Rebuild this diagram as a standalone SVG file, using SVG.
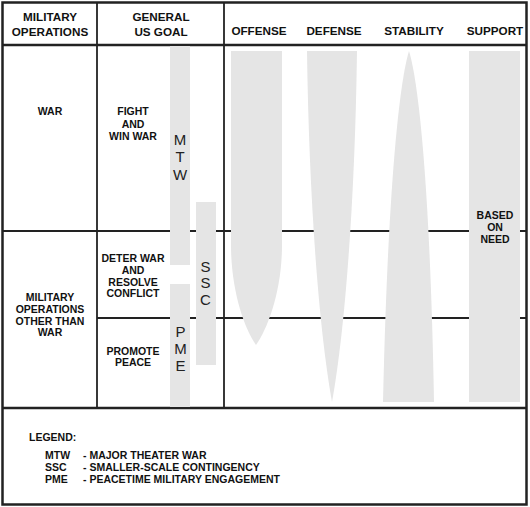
<svg xmlns="http://www.w3.org/2000/svg" width="530" height="507" viewBox="0 0 530 507">
<style>
.hd{font-family:"Liberation Sans",Arial,sans-serif;font-weight:bold;font-size:11.7px;fill:#111;text-anchor:middle}
.tx{font-family:"Liberation Sans",Arial,sans-serif;font-weight:bold;font-size:10.5px;fill:#111;text-anchor:middle}
.lg{font-family:"Liberation Sans",Arial,sans-serif;font-weight:bold;font-size:10.5px;fill:#111}
.big{font-family:"Liberation Sans",Arial,sans-serif;font-size:15px;fill:#222;text-anchor:middle}
.sh{fill:#e5e5e5}
.ln{stroke:#222;fill:none}
</style>
<rect width="530" height="507" fill="#fff"/>
<g id="grid">
<line class="ln" x1="2" y1="231" x2="527" y2="231" stroke-width="2" stroke="#3a3a3a"/>
<line class="ln" x1="97" y1="318" x2="527" y2="318" stroke-width="1.8"/>
<line class="ln" x1="97" y1="2" x2="97" y2="408" stroke-width="1.8"/>
<line class="ln" x1="224" y1="2" x2="224" y2="408" stroke-width="1.8"/>
<line class="ln" x1="2" y1="45" x2="527" y2="45" stroke-width="2.5"/>
<line class="ln" x1="2" y1="408" x2="527" y2="408" stroke-width="2.5"/>
<rect class="ln" x="2.5" y="2.5" width="524" height="502" stroke-width="2.5"/>
</g>
<g id="headers">
<text class="hd" x="50" y="21">MILITARY</text>
<text class="hd" x="50" y="36">OPERATIONS</text>
<text class="hd" x="161" y="21">GENERAL</text>
<text class="hd" x="161" y="36">US GOAL</text>
<text class="hd" x="259" y="35">OFFENSE</text>
<text class="hd" x="334" y="35">DEFENSE</text>
<text class="hd" x="414" y="35">STABILITY</text>
<text class="hd" x="495" y="35">SUPPORT</text>
</g>
<g id="row-war">
<text class="tx" x="50" y="115">WAR</text>
</g>
<g id="row-mootw">
<text class="tx" x="50" y="301">MILITARY</text>
<text class="tx" x="50" y="313">OPERATIONS</text>
<text class="tx" x="50" y="325">OTHER THAN</text>
<text class="tx" x="50" y="336">WAR</text>
</g>
<g id="goal-fight">
<text class="tx" x="133" y="115">FIGHT</text>
<text class="tx" x="133" y="128">AND</text>
<text class="tx" x="133" y="140">WIN WAR</text>
</g>
<g id="goal-deter">
<text class="tx" x="133" y="262">DETER WAR</text>
<text class="tx" x="133" y="274">AND</text>
<text class="tx" x="133" y="286">RESOLVE</text>
<text class="tx" x="133" y="297">CONFLICT</text>
</g>
<g id="goal-promote">
<text class="tx" x="133" y="355">PROMOTE</text>
<text class="tx" x="133" y="366">PEACE</text>
</g>
<g id="bar-mtw">
<rect class="sh" x="170" y="46" width="20" height="219"/>
<text class="big" x="180" y="145">M</text>
<text class="big" x="180" y="162">T</text>
<text class="big" x="180" y="180">W</text>
</g>
<g id="bar-ssc">
<rect class="sh" x="196" y="202" width="20" height="163"/>
<text class="big" x="205.5" y="272">S</text>
<text class="big" x="205.5" y="288">S</text>
<text class="big" x="205.5" y="305">C</text>
</g>
<g id="bar-pme">
<rect class="sh" x="170" y="284" width="20" height="123"/>
<text class="big" x="180.5" y="337">P</text>
<text class="big" x="180.5" y="354">M</text>
<text class="big" x="180.5" y="371">E</text>
</g>
<g id="offense">
<path class="sh" d="M231,51 H282 V245 C282,290 268,328 256,345 C244,328 231,290 231,245 Z"/>
</g>
<g id="defense">
<path class="sh" d="M307,51 H357 C355,200 345,330 332,402 C319,330 309,200 307,51 Z"/>
</g>
<g id="stability">
<path class="sh" d="M409,51 C418,80 430,180 434,402 H383 C388,180 400,80 409,51 Z"/>
</g>
<g id="support">
<rect class="sh" x="469" y="51" width="51" height="351"/>
<text class="tx" x="495" y="219">BASED</text>
<text class="tx" x="495" y="231">ON</text>
<text class="tx" x="495" y="243">NEED</text>
</g>
<g id="legend">
<text class="lg" x="29" y="441" font-size="11.2">LEGEND:</text>
<text class="lg" x="45" y="459">MTW</text>
<text class="lg" x="83" y="459">- MAJOR THEATER WAR</text>
<text class="lg" x="45" y="471">SSC</text>
<text class="lg" x="83" y="471">- SMALLER-SCALE CONTINGENCY</text>
<text class="lg" x="45" y="483">PME</text>
<text class="lg" x="83" y="483">- PEACETIME MILITARY ENGAGEMENT</text>
</g>
</svg>
